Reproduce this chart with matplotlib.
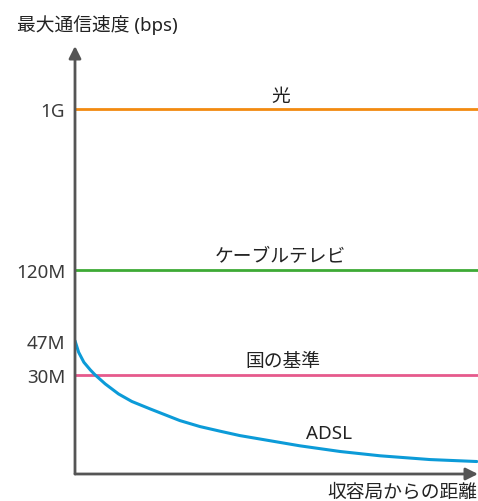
import matplotlib
matplotlib.use('Agg')
import matplotlib.pyplot as plt
from matplotlib.ticker import NullLocator

# latin text in Noto Sans, kana/kanji fall back to the CJK family
plt.rcParams['font.family'] = ['Noto Sans', 'Noto Sans CJK JP', 'DejaVu Sans']

# speeds in bps
tick_values = [1e9, 120e6, 47e6, 30e6]
tick_labels = ['1G', '120M', '47M', '30M']

hikari = 1e9
catv = 120e6
kuni = 30e6

# ADSL: distance (arbitrary units 0-100) vs speed (bps)
adsl_dist = [0, 0.9, 2.2, 3.8, 4.9, 7.5, 10.8, 14.1, 18.7, 26.0, 31.0,
             36.0, 40.9, 45.5, 55.8, 65.8, 75.7, 88.1, 99.7]
adsl_speed = [47e6, 40.4e6, 35.4e6, 32.0e6, 30.1e6, 26.6e6, 23.3e6, 21.1e6,
              19.1e6, 16.4e6, 15.15e6, 14.25e6, 13.45e6, 12.9e6,
              11.75e6, 10.9e6, 10.3e6, 9.8e6, 9.55e6]

W, H = 478, 502
fig = plt.figure(figsize=(W / 100, H / 100), dpi=100)
ax = fig.add_axes([75 / W, (H - 475) / H, (W - 75) / W, (475 - 47) / H])
ax.set_yscale('log')
ax.set_xlim(0, 100)
ax.set_ylim(8.1e6, 2.3e9)

for s in ax.spines.values():
    s.set_visible(False)

axis_col = '#555555'
arrow = dict(arrowstyle='-|>', color=axis_col, lw=2, mutation_scale=18,
             shrinkA=0, shrinkB=0)
ax.annotate('', xy=(0, 1), xytext=(0, 0), xycoords='axes fraction', arrowprops=arrow)
ax.annotate('', xy=(1, 0), xytext=(0, 0), xycoords='axes fraction', arrowprops=arrow)

ax.axhline(hikari, color='#F28A10', lw=2)
ax.axhline(catv, color='#3DAA35', lw=2)
ax.axhline(kuni, color='#E65A8C', lw=2)
ax.plot(adsl_dist, adsl_speed, color='#0C9BD8', lw=2.2, solid_capstyle='round',
        solid_joinstyle='round')

ax.set_xticks([])
ax.yaxis.set_minor_locator(NullLocator())
ax.set_yticks(tick_values)
ax.set_yticklabels(tick_labels)
ax.tick_params(axis='y', length=0, pad=7, labelsize=13.5, labelcolor='#3a3a3a')
for lab in ax.get_yticklabels():
    lab.set_fontweight('light')

txt = dict(fontsize=13.5, color='#222222', ha='center', va='bottom')
ax.text(51, hikari * 1.06, '光', **txt)
ax.text(51, catv * 1.06, 'ケーブルテレビ', **txt)
ax.text(51.5, kuni * 1.06, '国の基準', **txt)
ax.text(63, 12.3e6, 'ADSL', **txt)

fig.text(17 / W, 1 - 25 / H, '最大通信速度 (bps)', fontsize=13.5, color='#222222',
         ha='left', va='center')
fig.text(477 / W, 1 - 493 / H, '収容局からの距離', fontsize=13.5, color='#222222',
         ha='right', va='center')

fig.savefig('out.png', dpi=100)
